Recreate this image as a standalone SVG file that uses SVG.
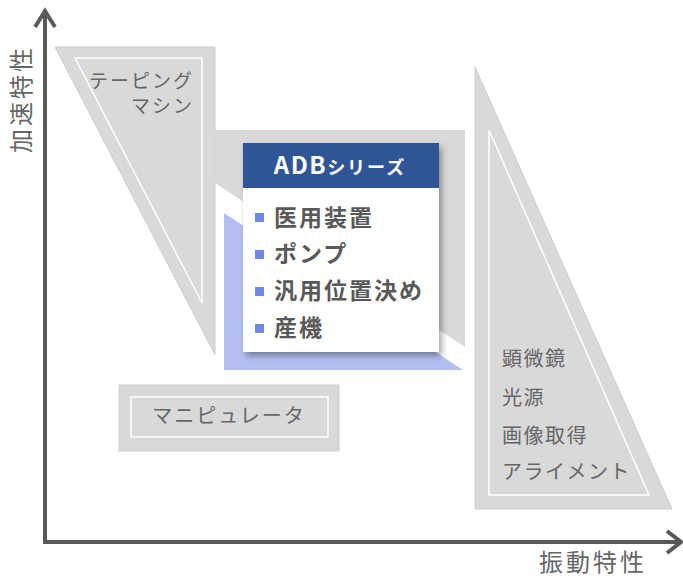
<svg xmlns="http://www.w3.org/2000/svg" width="683" height="578" viewBox="0 0 683 578">
<defs>
<style>
.g{fill:#d9d9d9;stroke:#cdcdcd;stroke-width:1}
.in{fill:none;stroke:#ffffff;stroke-width:1.5}
.t{font-family:"Noto Sans CJK JP","Noto Sans",sans-serif;fill:#666666;font-size:20px;letter-spacing:1.5px}
.ax{fill:none;stroke:#595959;stroke-width:4}
.li{font-family:"Noto Sans CJK JP","Noto Sans",sans-serif;fill:#595959;font-size:23px;font-weight:bold;letter-spacing:2px}
.b{fill:#6f87e8}
</style>
<filter id="sh" x="-10%" y="-10%" width="125%" height="125%">
<feDropShadow dx="3" dy="4" stdDeviation="3" flood-color="#000" flood-opacity="0.35"/>
</filter>
</defs>
<rect width="683" height="578" fill="#ffffff"/>

<g id="taping">
<polygon class="g" points="55,47 215,47 215,355"/>
<polygon class="in" points="75,58 202,58 202,303"/>
<text class="t" x="194" y="88" text-anchor="end" style="font-size:19px;letter-spacing:2px">テーピング</text>
<text class="t" x="194" y="113" text-anchor="end" style="font-size:19px;letter-spacing:2px">マシン</text>
</g>

<g id="adb">
<polygon fill="#d9d9d9" points="215,130 465,130 465,347 215,183"/>
<polygon fill="#b3bff0" points="224,213 224,370 463,370"/>
<g filter="url(#sh)">
<rect x="243" y="143" width="196" height="209" fill="#ffffff"/>
</g>
<rect x="243" y="143" width="196" height="45" fill="#2f5597"/>
<text x="340" y="174" text-anchor="middle" font-family="'Noto Sans CJK JP','Noto Sans',sans-serif" font-weight="bold" fill="#ffffff"><tspan font-size="24" letter-spacing="1.5">ADB</tspan><tspan font-size="18" letter-spacing="2">シリーズ</tspan></text>
<rect class="b" x="255" y="213" width="9" height="9"/>
<text class="li" x="274" y="226">医用装置</text>
<rect class="b" x="255" y="250" width="9" height="9"/>
<text class="li" x="274" y="262">ポンプ</text>
<rect class="b" x="255" y="287" width="9" height="9"/>
<text class="li" x="274" y="299">汎用位置決め</text>
<rect class="b" x="255" y="324" width="9" height="9"/>
<text class="li" x="274" y="336">産機</text>
</g>

<g id="manipulator">
<rect class="g" x="119" y="385" width="220" height="66"/>
<rect class="in" x="131" y="397" width="197" height="40"/>
<text class="t" x="229" y="423" text-anchor="middle" style="letter-spacing:2px">マニピュレータ</text>
</g>

<g id="optics">
<polygon class="g" points="475,67 475,509 672,509"/>
<polygon class="in" points="489,130 489,495 649,495"/>
<text class="t" x="502" y="366">顕微鏡</text>
<text class="t" x="502" y="405">光源</text>
<text class="t" x="502" y="443">画像取得</text>
<text class="t" x="502" y="479">アライメント</text>
</g>

<g id="axes">
<polyline class="ax" points="45,12 45,542 680,542"/>
<polyline class="ax" points="35,27 45,11 55,27"/>
<polyline class="ax" points="667,531 681,542 667,553"/>
<text class="t" transform="translate(30,99) rotate(-90)" text-anchor="middle" style="font-size:24px;letter-spacing:3px">加速特性</text>
<text class="t" x="593" y="571" text-anchor="middle" style="font-size:24px;letter-spacing:3px">振動特性</text>
</g>
</svg>
